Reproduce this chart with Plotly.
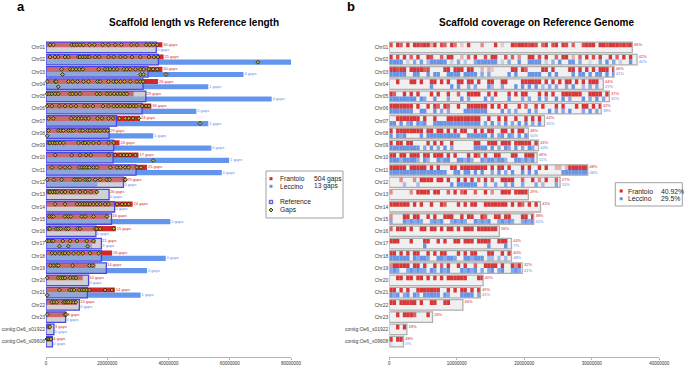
import math
import plotly.graph_objects as go

MB = 1_000_000
BIN_MB = 0.5

CHROMS = ["Chr01", "Chr02", "Chr03", "Chr04", "Chr05", "Chr06", "Chr07", "Chr08",
          "Chr09", "Chr10", "Chr11", "Chr12", "Chr13", "Chr14", "Chr15", "Chr16",
          "Chr17", "Chr18", "Chr19", "Chr20", "Chr21", "Chr22", "Chr23",
          "contig:Oe6_s01922", "contig:Oe6_s09608"]

# lengths in Mb
REF_MB = [36.0, 36.7, 33.3, 31.7, 32.6, 31.4, 23.0, 20.6, 22.1, 21.9, 29.4, 25.3, 20.6,
          22.4, 21.4, 16.3, 18.1, 18.1, 19.7, 13.9, 13.5, 10.9, 6.4, 2.6, 2.1]
FRANTOIO_MB = [38.0, 38.4, 38.0, 36.6, 28.6, 34.4, 30.7, 20.7, 24.0, 30.2, 33.0, 26.2, 16.8,
               28.3, 20.4, 22.8, 16.2, 21.6, 16.1, 12.0, 22.5, 10.1, 6.7, 1.5, 1.9]
LECCINO_MB = [0, 80.9, 64.5, 53.0, 73.7, 49.1, 53.0, 35.0, 54.0, 59.8, 57.4, 16.8, 0,
              0, 40.6, 0, 15.0, 39.1, 33.0, 0, 30.9, 0, 0, 0, 0.4]

FRANTOIO_GAPS = [30, 25, 30, 26, 29, 36, 24, 29, 24, 17, 25, 29, 26, 24, 16, 15, 21, 16, 14,
                 10, 14, 13, 4, 3, 4]
LECCINO_GAPS = [0, 1, 4, 1, 0, 0, 1, 1, 0, 1, 0, 0, 0, 0, 0, 0, 3, 0, 0, 0, 1, 0, 0, 0, 0]

# gap positions (Mb)
FRANTOIO_GAP_POS = [
    [1.3, 2.4, 8.4, 9.2, 10.1, 11.1, 12.2, 14.2, 15.8, 18.5, 20.4, 22.6, 24.6, 27.9, 29.7, 32.7, 33.9, 35.0, 36.3],
    [1.3, 2.95, 4.0, 6.2, 7.3, 10.6, 11.1, 12.0, 12.8, 13.6, 14.2, 16.1, 17.4, 20.4, 22.1, 24.3, 25.9, 28.1, 30.8, 33.6, 35.2, 36.5],
    [5.1, 7.9, 8.7, 9.8, 10.9, 12.0, 17.2, 19.3, 20.1, 21.0, 22.1, 23.2, 25.4, 26.4, 27.5, 29.2, 30.8, 31.9, 33.6, 35.0, 36.3],
    [0.4, 3.0, 3.3, 7.3, 8.7, 10.3, 12.2, 13.9, 16.8, 17.7, 20.4, 22.1, 23.0, 24.3, 25.6, 27.5, 29.7, 30.8, 31.7],
    [0.4, 1.1, 1.9, 3.0, 4.0, 7.9, 8.7, 9.8, 11.1, 16.6, 17.7, 19.9, 21.0, 22.3, 23.4, 24.3, 25.4, 26.4],
    [0.4, 1.9, 4.4, 6.2, 8.1, 9.8, 12.5, 13.6, 15.3, 18.6, 20.4, 22.1, 23.2, 24.3, 25.6, 26.7, 27.5, 28.6, 29.5, 31.4, 32.7, 33.6],
    [0.8, 2.4, 8.2, 9.5, 10.6, 11.7, 12.8, 13.9, 16.8, 18.3, 20.4, 21.9, 24.0, 25.9, 27.0, 28.4, 30.3],
    [0.8, 4.0, 4.8, 5.7, 7.3, 8.1, 9.0, 11.1, 12.0, 13.6, 14.4, 15.7, 16.6, 17.7, 19.0, 20.1],
    [0.8, 1.3, 2.2, 3.0, 3.7, 4.6, 5.7, 10.6, 12.0, 12.8, 13.9, 15.5, 17.3, 20.4, 22.1],
    [3.0, 8.4, 11.1, 13.1, 14.6, 20.4, 22.6, 24.3, 25.4, 26.4, 27.5, 29.2],
    [1.9, 4.6, 6.2, 7.7, 10.9, 11.7, 12.5, 13.3, 14.2, 15.5, 16.6, 21.0, 23.2, 24.3, 25.9, 27.0, 29.7, 31.0],
    [0.4, 2.6, 5.1, 9.2, 10.1, 11.1, 12.8, 13.6, 14.2, 16.1, 17.7, 19.9, 20.8, 25.9],
    [0.8, 1.3, 2.2, 3.0, 3.7, 5.1, 6.2, 8.1, 9.0, 11.1, 12.8, 14.6, 16.6],
    [3.0, 6.2, 10.1, 11.1, 12.0, 12.8, 13.6, 14.4, 15.5, 16.6, 17.7, 19.3, 20.4, 23.2, 24.8, 25.9, 27.0],
    [1.1, 1.9, 2.4, 6.2, 7.3, 8.1, 11.7, 12.8, 15.5, 19.9],
    [0.8, 1.3, 3.3, 4.0, 4.8, 6.6, 7.3, 10.3, 11.1, 16.1, 16.6, 17.7, 22.1],
    [0.4, 1.1, 1.9, 2.4, 5.5, 7.9, 10.1, 13.3, 15.5],
    [1.9, 3.0, 4.4, 5.5, 6.2, 7.3, 9.0, 10.6, 12.0, 14.4, 17.2],
    [1.5, 2.6, 3.5, 4.0, 8.7, 14.2, 15.3],
    [0.4, 4.0, 4.8, 5.5, 6.2, 7.9, 9.0, 9.8],
    [4.4, 7.7, 8.4, 9.2, 10.9, 11.7, 12.5, 13.3, 14.2, 19.3, 21.5],
    [1.9, 2.6, 3.5, 5.7, 6.2, 6.8, 7.3, 8.1, 9.0, 9.8],
    [0.4, 6.2, 6.6],
    [0.8, 1.3],
    [0.3, 0.7, 1.1, 1.6],
]
LECCINO_GAP_POS = [
    [], [69.2], [5.4, 30.8, 31.9, 39.2], [4.0], [], [], [50.3], [0.4], [], [35.0], [], [], [],
    [], [], [], [4.4, 7.3, 13.6], [], [], [], [0.4], [], [], [], [],
]

# coverage per 0.5 Mb bin, 0 (none) .. 9 (full)
FRANTOIO_COV = [
    ("809709" "0" "99899" "3" "9087" "0" "96" "020" "90" "00" "5" "000" "9" "0200"
     "9899989" "807908" "909807" "00" "899909989998989"),
    "9080907090" "0980070990" "0307090080" "9900807050" "0990809007" "0990307090" "8090090709" "090",
    "9989909999" "7800009909" "9909900303" "2000009909" "7000099090" "0009909090" "9099909",
    "0090009909" "0099090900" "9909909009" "9009900009" "9999909090" "9099090909" "990",
    "9700909090" "0090900900" "7009999009" "0900090909" "9000909090" "0999999009" "99909",
    "9999999090" "0909709700" "9009999990" "9090900090" "7009090009" "0900090990" "909",
    "0099999990" "9009000999" "9999999009" "0090900900" "909090",
    "9099999999" "0990990909" "0990090909" "9009909099" "0",
    "9099099000" "0909090090" "0000099009" "9909990999" "9909",
    "9909909990" "9909990909" "0009097090" "0990009900" "9990",
    "9999909999" "9090900099" "0999999990" "9099090009" "0900909003" "303999999",
    "0005000509" "9990990900" "9090907090" "7009999007" "0090509007" "0",
    "5000005099" "9909900709" "0790070090" "5009990999" "9",
    "9999990909" "0090097000" "9090990099" "9999909097" "09090",
    "5000990990" "0909009990" "0909900970" "0990990009" "909",
    "7099909009" "9099090990" "9099909999" "990",
    "9990009000" "9900909009" "9099909999" "009990",
    "9909090990" "0909099000" "9090990009" "900909",
    "5999990990" "9009070900" "9090070099" "990900959",
    "0099099099" "0909090999" "99900099",
    "9909090099" "9999900909" "0990909",
    "9909999909" "0099009900" "00",
    "0090999700090",
    "00909",
    "9099",
]
LECCINO_COV = [
    "",
    "9999030708" "0599999030" "7040079999" "9903070090" "0999903060" "9009907002" "0070907030" "090",
    "9999900990" "0909900999" "9099990707" "0000090900" "0999900909" "0000909909" "0990909",
    "0000000000" "0090000090" "9007070009" "5007000909" "0909050707" "0070900507" "070",
    "9999999909" "7009000700" "0907000090" "7000090007" "0700907009" "0907000907" "09070",
    "9999999009" "9009070700" "0099999990" "0009070700" "0907000907" "0709000709" "070",
    "9909079097" "9009999999" "9999999070" "9070907090" "907090",
    "9097900009" "0999999999" "9009999990" "9079097090" "9",
    "9999999990" "7090709070" "0000099990" "9070970907" "0970",
    "9996999960" "9600969900" "9969600969" "9699600996" "9690",
    "9999999999" "9999999009" "9099090900" "7090709009" "0909000000" "099999999",
    "0000500050" "0000000090" "9999990070" "0700709007" "0007050007" "0",
    "",
    "",
    "7000979797" "0079790079" "7970097979" "0079797007" "979",
    "",
    "0000000000" "9000000000" "0000000009" "000090",
    "9999990979" "9700997997" "0099799905" "505050",
    "7970079797" "7097097900" "0979790707" "907900797",
    "",
    "9790790970" "9999909700" "0999907",
    "",
    "",
    "",
    "2000",
]

FRANTOIO_PCT = ["66%", "42%", "46%", "44%", "37%", "42%", "44%", "48%", "41%", "46%", "48%", "27%",
                "29%", "41%", "38%", "56%", "44%", "40%", "32%", "40%", "49%", "46%", "26%", "18%", "48%"]
LECCINO_PCT = [None, "40%", "41%", "29%", "32%", "38%", "45%", "50%", "44%", "51%", "46%", "20%",
               None, None, "42%", None, "7%", "48%", "41%", None, "41%", None, None, None, "0%"]

TICKS_A = [0, 20000000, 40000000, 60000000, 80000000]
TICKS_B = [0, 10000000, 20000000, 30000000, 40000000]
LEGEND_A = [("Frantoio", "504 gaps"), ("Leccino", "13 gaps")]
LEGEND_B = [("Frantoio", "40.92%"), ("Leccino", "29.5%")]

# ---------------------------------------------------------------------------
W, H = 685, 366
FONT = "Liberation Sans"
RED = "rgb(214,39,40)"
BLUE = "rgb(100,149,237)"
BLUE_TXT = "rgb(95,140,235)"
HALF = 0.2125
BAR_W = 0.85


def px(x):
    return x / W


def py(y):
    return 1 - y / H


rows = list(range(len(CHROMS)))
top = [i - HALF for i in rows]
bot = [i + HALF for i in rows]

fig = go.Figure()
common = dict(orientation="h", hoverinfo="skip", showlegend=False)

# ---------------- panel a ----------------
ref_bp = [r * MB for r in REF_MB]
fig.add_trace(go.Bar(x=ref_bp, y=rows, base=0, width=BAR_W,
                     marker=dict(color="rgb(226,226,226)", line=dict(width=0)),
                     xaxis="x", yaxis="y", **common))
fig.add_trace(go.Bar(x=[v * MB for v in FRANTOIO_MB], y=top, base=0, width=0.425,
                     marker=dict(color=RED, line=dict(width=0)), xaxis="x", yaxis="y", **common))
fig.add_trace(go.Bar(x=[v * MB for v in LECCINO_MB], y=bot, base=0, width=0.425,
                     marker=dict(color=BLUE, line=dict(width=0)), xaxis="x", yaxis="y", **common))
fig.add_trace(go.Bar(x=ref_bp, y=rows, base=0, width=BAR_W,
                     marker=dict(color="rgba(188,188,192,0.45)",
                                 line=dict(color="rgb(70,70,235)", width=1.3)),
                     xaxis="x", yaxis="y", **common))

gx, gy = [], []
for i, lst in enumerate(FRANTOIO_GAP_POS):
    for g in lst:
        gx.append(g * MB)
        gy.append(i - HALF)
for i, lst in enumerate(LECCINO_GAP_POS):
    for g in lst:
        gx.append(g * MB)
        gy.append(i + HALF)
fig.add_trace(go.Scatter(x=gx, y=gy, mode="markers", xaxis="x", yaxis="y",
                         marker=dict(symbol="diamond", size=3.0, color="rgb(185,178,40)",
                                     line=dict(color="rgb(25,25,15)", width=0.8)),
                         hoverinfo="skip", showlegend=False, cliponaxis=False))

fig.add_trace(go.Scatter(
    x=[max(f, r) * MB + 0.3 * MB for f, r in zip(FRANTOIO_MB, REF_MB)], y=top,
    mode="text", text=[f"{n} gaps" for n in FRANTOIO_GAPS], textposition="middle right",
    textfont=dict(size=4, color=RED, family=FONT), xaxis="x", yaxis="y",
    hoverinfo="skip", showlegend=False, cliponaxis=False))
fig.add_trace(go.Scatter(
    x=[max(l, r) * MB + 0.3 * MB for l, r in zip(LECCINO_MB, REF_MB)], y=bot,
    mode="text", text=[f"{n} gaps" for n in LECCINO_GAPS], textposition="middle right",
    textfont=dict(size=4, color=BLUE_TXT, family=FONT), xaxis="x", yaxis="y",
    hoverinfo="skip", showlegend=False, cliponaxis=False))

# ---------------- panel b ----------------
fig.add_trace(go.Bar(x=ref_bp, y=rows, base=0, width=BAR_W,
                     marker=dict(color="rgb(240,240,240)", line=dict(width=0)),
                     xaxis="x2", yaxis="y2", **common))


def stripes(cov_list, offset, rgb):
    xs, bs, ys, cs = [], [], [], []
    for i, s in enumerate(cov_list):
        n = math.ceil(REF_MB[i] / BIN_MB - 1e-9)
        for k, ch in enumerate(s[:n]):
            d = int(ch)
            if d == 0:
                continue
            start = k * BIN_MB
            end = min((k + 1) * BIN_MB, REF_MB[i])
            bs.append(start * MB)
            xs.append((end - start) * MB)
            ys.append(i + offset)
            cs.append(f"rgba({rgb},{0.92 * d / 9:.2f})")
    return go.Bar(x=xs, base=bs, y=ys, width=0.425,
                  marker=dict(color=cs, line=dict(width=0)),
                  xaxis="x2", yaxis="y2", **common)


fig.add_trace(stripes(FRANTOIO_COV, -HALF, "214,39,40"))
fig.add_trace(stripes(LECCINO_COV, HALF, "90,140,232"))
fig.add_trace(go.Bar(x=ref_bp, y=rows, base=0, width=BAR_W,
                     marker=dict(color="rgba(0,0,0,0)",
                                 line=dict(color="rgb(175,175,175)", width=1.3)),
                     xaxis="x2", yaxis="y2", **common))

fig.add_trace(go.Scatter(
    x=[r * MB + 0.25 * MB for r in REF_MB], y=top, mode="text", text=FRANTOIO_PCT,
    textposition="middle right", textfont=dict(size=4, color=RED, family=FONT),
    xaxis="x2", yaxis="y2", hoverinfo="skip", showlegend=False, cliponaxis=False))
lp_x = [r * MB + 0.25 * MB for r, p in zip(REF_MB, LECCINO_PCT) if p]
lp_y = [b for b, p in zip(bot, LECCINO_PCT) if p]
fig.add_trace(go.Scatter(
    x=lp_x, y=lp_y, mode="text", text=[p for p in LECCINO_PCT if p],
    textposition="middle right", textfont=dict(size=4, color=BLUE_TXT, family=FONT),
    xaxis="x2", yaxis="y2", hoverinfo="skip", showlegend=False, cliponaxis=False))

# ---------------- axes ----------------
ydom = [py(357), py(40)]
yrange = [len(CHROMS) - 1 + 1.25, -0.6]
xcommon = dict(showgrid=False, zeroline=False, showline=True, linecolor="#b4b4b4",
               linewidth=1, ticks="outside", ticklen=2, tickcolor="#b4b4b4",
               tickfont=dict(size=4.5, color="#333", family=FONT), fixedrange=True,
               automargin=False)
ycommon = dict(showgrid=False, zeroline=False, showline=False, ticks="", domain=ydom,
               range=yrange, tickvals=rows, ticktext=CHROMS, automargin=False,
               tickfont=dict(size=5, color="#444", family=FONT), fixedrange=True)

fig.update_layout(
    width=W, height=H, margin=dict(l=0, r=0, t=0, b=0, autoexpand=False),
    paper_bgcolor="white", plot_bgcolor="white", barmode="overlay", showlegend=False,
    font=dict(family=FONT),
    xaxis=dict(domain=[px(46), px(291)], range=[0, 80 * MB], anchor="y",
               tickvals=TICKS_A, ticktext=[str(t) for t in TICKS_A], **xcommon),
    yaxis=dict(anchor="x", **ycommon),
    xaxis2=dict(domain=[px(389.3), px(659.3)], range=[0, 40 * MB], anchor="y2",
                tickvals=TICKS_B, ticktext=[str(t) for t in TICKS_B], **xcommon),
    yaxis2=dict(anchor="x2", **ycommon),
)

ann = []
ann.append(dict(x=px(20.5), y=py(6.2), text="<b>a</b>", font=dict(size=13, color="black")))
ann.append(dict(x=px(351), y=py(6.2), text="<b>b</b>", font=dict(size=13, color="black")))
ann.append(dict(x=px(194), y=py(22.5), text="<b>Scaffold length vs Reference length</b>",
                font=dict(size=10, color="black")))
ann.append(dict(x=px(537), y=py(22.5), text="<b>Scaffold coverage on Reference Genome</b>",
                font=dict(size=10, color="black")))
for a in ann:
    a.update(xref="paper", yref="paper", xanchor="center", yanchor="middle", showarrow=False)

shapes = []
# legend a
shapes.append(dict(type="rect", xref="paper", yref="paper", x0=px(266), x1=px(343),
                   y0=py(218), y1=py(171), line=dict(color="#a0a0a0", width=1),
                   fillcolor="white", layer="above"))
leg_a_y = [178.7, 186.3]
for (name, val), yy, col in zip(LEGEND_A, leg_a_y, [RED, BLUE]):
    shapes.append(dict(type="rect", xref="paper", yref="paper", x0=px(269.5), x1=px(272.5),
                       y0=py(yy + 1.5), y1=py(yy - 1.5), line=dict(width=0), fillcolor=col,
                       layer="above"))
    ann.append(dict(x=px(278), y=py(yy), text=name))
    ann.append(dict(x=px(312), y=py(yy), text=val))
shapes.append(dict(type="rect", xref="paper", yref="paper", x0=px(269.3), x1=px(272.7),
                   y0=py(203.7), y1=py(200.3), line=dict(color="rgb(70,70,235)", width=1),
                   fillcolor="rgb(200,195,225)", layer="above"))
ann.append(dict(x=px(278), y=py(202), text="Reference"))
dx, dyc = 271, 210
shapes.append(dict(type="path", xref="paper", yref="paper",
                   path=f"M {px(dx - 2.0)} {py(dyc)} L {px(dx)} {py(dyc - 2.0)} "
                        f"L {px(dx + 2.0)} {py(dyc)} L {px(dx)} {py(dyc + 2.0)} Z",
                   line=dict(color="rgb(25,25,15)", width=0.8), fillcolor="rgb(205,205,30)",
                   layer="above"))
ann.append(dict(x=px(278), y=py(210), text="Gaps"))
for a in ann[4:]:
    a.update(xref="paper", yref="paper", xanchor="left", yanchor="middle", showarrow=False,
             font=dict(size=6.7, color="#222", family=FONT))

# legend b
shapes.append(dict(type="rect", xref="paper", yref="paper", x0=px(615.3), x1=px(682.3),
                   y0=py(206), y1=py(182.7), line=dict(color="#a0a0a0", width=1),
                   fillcolor="white", layer="above"))
nb = len(ann)
for (name, val), yy, col in zip(LEGEND_B, [191, 198.7], [RED, BLUE]):
    shapes.append(dict(type="rect", xref="paper", yref="paper", x0=px(619.7), x1=px(622.7),
                       y0=py(yy + 1.5), y1=py(yy - 1.5), line=dict(width=0), fillcolor=col,
                       layer="above"))
    ann.append(dict(x=px(626), y=py(yy), text=name))
    ann.append(dict(x=px(659), y=py(yy), text=val))
for a in ann[nb:]:
    a.update(xref="paper", yref="paper", xanchor="left", yanchor="middle", showarrow=False,
             font=dict(size=6.8, color="#222", family=FONT))

fig.update_layout(annotations=ann, shapes=shapes)
fig.write_html("out.html", config={"displayModeBar": False, "staticPlot": True},
               post_script="document.body.style.margin='0px';document.body.style.overflow='hidden';")
